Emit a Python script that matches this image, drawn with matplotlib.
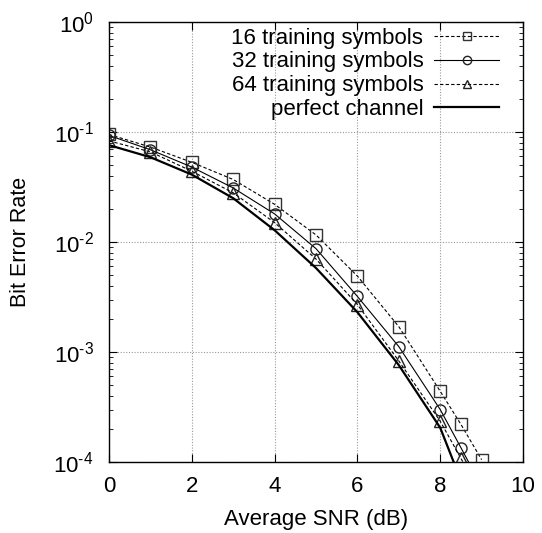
import matplotlib
matplotlib.use("Agg")
import matplotlib.pyplot as plt
from matplotlib.ticker import LogLocator, NullFormatter, MultipleLocator, FuncFormatter
import math

plt.rcParams['font.family'] = ['Liberation Sans', 'DejaVu Sans']
plt.rcParams['mathtext.fontset'] = 'custom'
plt.rcParams['mathtext.rm'] = 'Liberation Sans'
plt.rcParams['mathtext.it'] = 'Liberation Sans:italic'
plt.rcParams['mathtext.bf'] = 'Liberation Sans:bold'

snr_marked = [0, 1, 2, 3, 4, 5, 6, 7, 8, 8.5, 9]
ber_16 = [0.095, 0.073, 0.053, 0.037, 0.022, 0.0116, 0.0049, 0.0017, 0.00044, 0.00022, 0.000105]
snr_32 = [0, 1, 2, 3, 4, 5, 6, 7, 8, 8.5, 9]
ber_32 = [0.093, 0.069, 0.048, 0.031, 0.018, 0.0087, 0.0032, 0.00112, 0.00030, 0.000135, 0.00006]
snr_64 = [0, 1, 2, 3, 4, 5, 6, 7, 8, 8.5, 9]
ber_64 = [0.083, 0.066, 0.044, 0.028, 0.015, 0.0070, 0.0027, 0.00083, 0.000235, 0.000108, 0.00005]
snr_perfect = [0, 1, 2, 3, 4, 5, 6, 7, 8, 8.5]
ber_perfect = [0.076, 0.059, 0.041, 0.025, 0.0128, 0.0058, 0.0023, 0.00076, 0.000205, 0.000068]

labels = ['16 training symbols', '32 training symbols', '64 training symbols', 'perfect channel']

FS = 16

fig = plt.figure(figsize=(5.42, 5.33), dpi=100)
ax = fig.add_axes([109/542, 1-462/533, (523-109)/542, (462-22)/533])

ax.plot(snr_marked, ber_16, color='black', lw=0.8, ls=(0, (3, 2)), marker='s', ms=8,
        mfc='none', mec='#333333', mew=1.0, label=labels[0])
ax.plot(snr_32, ber_32, color='black', lw=0.8, ls='-', marker='o', ms=8,
        mfc='none', mec='#222222', mew=1.0, label=labels[1])
ax.plot(snr_64, ber_64, color='black', lw=0.8, ls=(0, (3, 2)), marker='^', ms=8,
        mfc='none', mec='#222222', mew=1.0, label=labels[2])
ax.plot(snr_perfect, ber_perfect, color='black', lw=1.6, ls='-', label=labels[3])

ax.set_yscale('log')
ax.set_xlim(0, 10)
ax.set_ylim(1e-4, 1)
ax.xaxis.set_major_locator(MultipleLocator(2))
ax.yaxis.set_major_locator(LogLocator(base=10, numticks=10))
ax.yaxis.set_minor_locator(LogLocator(base=10, subs=range(2, 10), numticks=10))
ax.yaxis.set_minor_formatter(NullFormatter())

def logfmt(v, pos):
    e = int(round(math.log10(v)))
    s = str(e).replace('-', '\u2010')
    return r'$\mathrm{10}^{\mathrm{%s}}$' % s

ax.yaxis.set_major_formatter(FuncFormatter(logfmt))

ax.tick_params(which='both', direction='in', top=True, right=True, labelsize=FS)
ax.tick_params(which='major', length=6, width=0.8)
ax.tick_params(which='minor', length=3, width=0.6)
ax.tick_params(axis='x', pad=10)
ax.tick_params(axis='y', pad=11)

ax.grid(True, which='major', color='#999999', ls=(0, (1, 1.5)), lw=0.8)
for s in ax.spines.values():
    s.set_linewidth(1.0)

ax.set_xlabel('Average SNR (dB)', fontsize=FS, labelpad=9)
ax.set_ylabel('Bit Error Rate', fontsize=15.5, labelpad=16)

leg = ax.legend(loc='upper right', frameon=False, markerfirst=False, fontsize=FS,
                handlelength=2.9, labelspacing=0.13, borderaxespad=0.0,
                handletextpad=0.5, borderpad=0.25, markerscale=0.75,
                bbox_to_anchor=(0.955, 1.0))

fig.savefig('out.png', dpi=100)
